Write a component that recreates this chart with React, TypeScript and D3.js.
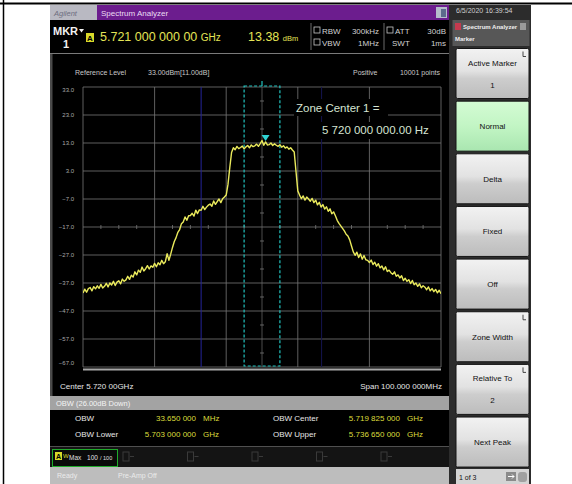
import React from "react";
import * as d3 from "d3";

const W = 572;
const H = 484;
const FONT = "'Liberation Sans', Arial, sans-serif";

// ---- data ----
const CENTER_MHZ = 5720;
const SPAN_MHZ = 100;
const TRACE_START_MHZ = 5670;
const TRACE_STEP_MHZ = 0.5;
const TRACE_LEVELS_DBM = [
  -40.6, -39.2, -40.3, -39.0, -38.6, -39.8, -38.3, -39.1, -38.0, -38.9,
  -37.5, -38.8, -38.2, -37.1, -38.4, -37.0, -37.7, -36.4, -37.9, -36.7,
  -36.2, -37.3, -35.6, -36.4, -35.9, -34.6, -35.7, -34.2, -34.9, -33.0,
  -34.1, -32.4, -33.2, -31.3, -32.7, -31.9, -30.8, -32.0, -30.9, -31.4,
  -30.0, -31.2, -29.8, -30.5, -28.9, -30.1, -29.4, -26.5, -28.9, -26.7,
  -24.3, -22.2, -20.8, -18.9, -17.9, -15.8, -15.2, -13.4, -14.6, -13.0,
  -12.9, -12.1, -13.1, -11.0, -12.2, -10.9, -11.0, -9.6, -10.8, -9.9,
  -9.2, -8.8, -9.6, -7.7, -8.9, -7.9, -7.0, -8.3, -6.9, -6.3,
  -5.6, -1.8, 4.2, 9.6,
  11.3, 10.6, 11.8, 11.0, 11.4, 11.9, 10.9, 11.6, 12.1, 11.3,
  12.3, 11.7, 12.0, 12.6, 11.8, 12.8, 13.9, 12.2, 13.4, 12.3,
  12.4, 13.0, 12.1, 12.7, 12.2, 11.8, 12.4, 11.5, 12.0, 11.2,
  11.6, 10.8, 11.3, 10.5, 9.8,
  2.8, -4.1,
  -5.6, -6.9, -5.9, -7.4, -6.3, -7.0, -7.8, -6.8, -8.3, -7.4,
  -9.1, -8.2, -9.9, -9.0, -10.6, -9.8, -11.4, -10.5, -12.3, -11.6,
  -13.0, -14.6, -15.7, -16.6, -17.5, -18.4, -19.6, -20.2, -21.6,
  -23.8, -25.9,
  -27.1, -26.0, -27.9, -26.6, -28.5, -27.2, -28.7, -28.9, -29.7, -28.8,
  -30.4, -29.6, -31.0, -30.1, -31.6, -30.9, -32.3, -31.2, -32.9, -32.4,
  -33.3, -33.9, -33.0, -34.6, -34.1, -35.2, -34.4, -36.1, -35.3, -36.4,
  -35.8, -37.2, -36.1, -37.6, -37.0, -38.2, -37.3, -38.7, -38.0, -38.5,
  -39.4, -38.4, -39.8, -39.0, -40.1, -39.3, -40.5, -39.6, -40.8,
];
const Y_TICKS_DBM = [33, 23, 13, 3, -7, -17, -27, -37, -47, -57, -67];
const X_GRID_MHZ = [5670, 5690, 5710, 5730, 5750, 5770];
const X_MINOR_MHZ = [5675, 5680, 5685, 5695, 5700, 5705, 5715, 5725, 5735, 5740, 5745, 5755, 5760, 5765];
const Y_MINOR_DBM = [28, 18, 8, -2, -12, -22, -32, -42, -52, -62];
const MARKER_MHZ = 5721;
const MARKER_DBM = 13.38;
const ZONE_LEFT_MHZ = 5715;
const ZONE_RIGHT_MHZ = 5725;
const OBW_LOWER_MHZ = 5703.0;
const OBW_UPPER_MHZ = 5736.65;

const SOFTKEY_LABELS = [
  ["Active Marker", "1"],
  ["Normal"],
  ["Delta"],
  ["Fixed"],
  ["Off"],
  ["Zone Width"],
  ["Relative To", "2"],
  ["Next Peak"],
];
const SOFTKEY_ACTIVE = 1;
const SOFTKEY_SUBMENU = [0, 5, 6];

const OBW_LABELS = ["OBW", "OBW Lower", "OBW Center", "OBW Upper"];
const OBW_VALUES = ["33.650 000", "5.703 000 000", "5.719 825 000", "5.736 650 000"];
const OBW_UNITS = ["MHz", "GHz", "GHz", "GHz"];
const TRACE_SLOTS = ["1", "2", "3", "4", "5"];

// ---- geometry ----
const PLOT_L = 83;
const PLOT_R = 441;
const PLOT_T = 87;
const PLOT_B = 367;

export default function App() {
  const x = d3
    .scaleLinear()
    .domain([CENTER_MHZ - SPAN_MHZ / 2, CENTER_MHZ + SPAN_MHZ / 2])
    .range([PLOT_L, PLOT_R]);
  const y = d3.scaleLinear().domain([-67, 33]).range([PLOT_B, PLOT_T]);
  const fmt = d3.format(".1f");

  const line = d3
    .line<number>()
    .x((_, i) => x(TRACE_START_MHZ + i * TRACE_STEP_MHZ))
    .y((d) => y(d));

  const mx = x(MARKER_MHZ);
  const my = y(MARKER_DBM);
  const zl = x(ZONE_LEFT_MHZ);
  const zr = x(ZONE_RIGHT_MHZ);
  const zc = x(CENTER_MHZ);

  const keyTop = (i: number) => 48.5 + i * 52.65;

  return (
    <div style={{ position: "fixed", left: 0, top: 0 }}>
      <svg width={W} height={H} style={{ display: "block", fontFamily: FONT }}>
        <defs>
          <linearGradient id="btn" x1="0" y1="0" x2="0" y2="1">
            <stop offset="0" stopColor="#f2f2f2" />
            <stop offset="0.45" stopColor="#e2e2e2" />
            <stop offset="0.6" stopColor="#cdcdcd" />
            <stop offset="1" stopColor="#bcbcbc" />
          </linearGradient>
          <linearGradient id="btnOn" x1="0" y1="0" x2="0" y2="1">
            <stop offset="0" stopColor="#d4fbd4" />
            <stop offset="0.5" stopColor="#c2f5c4" />
            <stop offset="1" stopColor="#a9e6b0" />
          </linearGradient>
          <clipPath id="plotClip">
            <rect x={PLOT_L} y={PLOT_T - 2} width={PLOT_R - PLOT_L} height={PLOT_B - PLOT_T + 4} />
          </clipPath>
        </defs>
        <rect width={W} height={H} fill="#ffffff" />
        {/* document frame lines */}
        <line x1={0} x2={W} y1={3.5} y2={3.5} stroke="#000" strokeWidth={2} />
        <line x1={3.5} x2={3.5} y1={0} y2={H} stroke="#000" strokeWidth={1.5} />

        {/* instrument screen */}
        <rect x={50} y={5} width={480} height={479} fill="#000" />
        {/* title bar */}
        <rect x={50} y={5} width={47} height={15} fill="#b9b9c2" />
        <text x={54} y={16} fontSize={7.5} fill="#6e6e80" fontStyle="italic">
          Agilent
        </text>
        <rect x={97} y={5} width={352} height={15} fill="#6c1d8e" />
        <text x={101} y={16} fontSize={8} fill="#eadcf2">
          Spectrum Analyzer
        </text>
        <rect x={436} y={7} width={11} height={11} fill="#b6bccc" />
        <rect x={441} y={9} width={5} height={8} fill="#5c6a8c" />

        {/* MKR row */}
        <text x={53} y={35} fontSize={11} fontWeight="bold" fill="#f2f2f2">
          MKR
        </text>
        <path d="M79,29 L84,29 L81.5,32.5 Z" fill="#f2f2f2" />
        <text x={63} y={48} fontSize={11} fontWeight="bold" fill="#f2f2f2">
          1
        </text>
        <rect x={86} y={33} width={8} height={9} fill="#d9d92a" />
        <text x={90} y={41} fontSize={8} fontWeight="bold" fill="#000" textAnchor="middle">
          A
        </text>
        <text x={100} y={41} fontSize={12.5} fill="#e4e456">
          5.721 000 000 00 <tspan fontSize={10}>GHz</tspan>
        </text>
        <text x={248} y={41} fontSize={12.5} fill="#e4e456">
          13.38 <tspan fontSize={7.5}>dBm</tspan>
        </text>
        <line x1={311} x2={311} y1={23} y2={50} stroke="#6a6a6a" />
        <line x1={384} x2={384} y1={23} y2={50} stroke="#6a6a6a" />
        <rect x={314} y={27} width={6} height={6} fill="none" stroke="#c8c8c8" strokeWidth={0.8} />
        <rect x={314} y={39} width={6} height={6} fill="none" stroke="#c8c8c8" strokeWidth={0.8} />
        <rect x={387} y={27} width={6} height={6} fill="none" stroke="#c8c8c8" strokeWidth={0.8} />
        <g fontSize={8} fill="#d2d2d2">
          <text x={322} y={34}>RBW</text>
          <text x={379} y={34} textAnchor="end">300kHz</text>
          <text x={322} y={46}>VBW</text>
          <text x={379} y={46} textAnchor="end">1MHz</text>
          <text x={395} y={34}>ATT</text>
          <text x={446} y={34} textAnchor="end">30dB</text>
          <text x={392} y={46}>SWT</text>
          <text x={446} y={46} textAnchor="end">1ms</text>
        </g>
        <line x1={50} x2={449} y1={53.5} y2={53.5} stroke="#7a7a7a" />

        {/* graph panel */}
        <rect x={50} y={54} width={2.5} height={342} fill="#4a4a4a" />
        <g fontSize={7} fill="#c8c8c8">
          <text x={75} y={75}>Reference Level</text>
          <text x={148} y={75}>33.00dBm[11.00dB]</text>
          <text x={353} y={75}>Positive</text>
          <text x={440} y={75} textAnchor="end">10001 points</text>
        </g>

        {/* grid */}
        <g stroke="#767676" strokeWidth={0.8}>
          {Y_TICKS_DBM.map((v) => (
            <line key={"h" + v} x1={PLOT_L} x2={PLOT_R} y1={y(v)} y2={y(v)} />
          ))}
          {X_GRID_MHZ.map((f) => (
            <line key={"v" + f} x1={x(f)} x2={x(f)} y1={PLOT_T} y2={PLOT_B} />
          ))}
          <line x1={zc} x2={zc} y1={PLOT_T} y2={PLOT_B} stroke="#6e6e6e" strokeWidth={0.7} />
          {X_MINOR_MHZ.map((f) => (
            <line key={"mx" + f} x1={x(f)} x2={x(f)} y1={y(-17) - 2} y2={y(-17) + 2} />
          ))}
          {Y_MINOR_DBM.map((v) => (
            <line key={"my" + v} x1={zc - 2} x2={zc + 2} y1={y(v)} y2={y(v)} />
          ))}
        </g>
        <line x1={PLOT_L} x2={PLOT_R} y1={PLOT_B + 2.5} y2={PLOT_B + 2.5} stroke="#a8a8a8" strokeWidth={2} />
        <g fontSize={6} fill="#a8a8a8" textAnchor="end">
          {Y_TICKS_DBM.map((v, i) => (
            <text
              key={"yl" + v}
              x={74}
              y={y(v) + (i === 0 ? 5 : i === Y_TICKS_DBM.length - 1 ? -2 : 2)}
            >
              {fmt(v)}
            </text>
          ))}
        </g>

        {/* OBW limit lines */}
        <line x1={x(OBW_LOWER_MHZ)} x2={x(OBW_LOWER_MHZ)} y1={PLOT_T} y2={PLOT_B} stroke="#23239a" strokeWidth={1} />
        <line x1={x(OBW_UPPER_MHZ)} x2={x(OBW_UPPER_MHZ)} y1={PLOT_T} y2={PLOT_B} stroke="#141450" strokeWidth={1} />

        {/* zone text */}
        <rect x={294} y={99} width={94} height={17} fill="#000" />
        <rect x={319} y={122} width={108} height={17} fill="#000" />
        <text x={296} y={112} fontSize={11.5} fill="#d6e4d2">
          Zone Center 1 =
        </text>
        <text x={322} y={134} fontSize={11.5} fill="#d6e4d2">
          5 720 000 000.00 Hz
        </text>

        {/* zone box */}
        <rect
          x={zl}
          y={PLOT_T - 1}
          width={zr - zl}
          height={PLOT_B - PLOT_T}
          fill="none"
          stroke="#22c4c0"
          strokeWidth={1.2}
          strokeDasharray="3,2"
        />
        <line x1={zc} x2={zc} y1={81} y2={PLOT_T - 1} stroke="#22c4c0" strokeWidth={1.2} />

        {/* trace */}
        <path
          d={line(TRACE_LEVELS_DBM) || ""}
          fill="none"
          stroke="#eaea5c"
          strokeWidth={1.4}
          strokeLinejoin="round"
          clipPath="url(#plotClip)"
        />

        {/* marker */}
        <path d={`M${mx - 4},${my - 7} L${mx + 4},${my - 7} L${mx},${my - 1} Z`} fill="#2fd3d3" />

        {/* bottom annotations */}
        <g fontSize={8} fill="#e6e6e6">
          <text x={60} y={389}>Center 5.720 00GHz</text>
          <text x={442} y={389} textAnchor="end">Span 100.000 000MHz</text>
        </g>
        <rect x={50} y={396} width={399} height={14} fill="#a3a3a3" />
        <text x={56} y={406} fontSize={7.5} fill="#f4f4f4">
          OBW (26.00dB Down)
        </text>
        <g fontSize={8}>
          {OBW_LABELS.map((lab, i) => {
            const col = Math.floor(i / 2);
            const row = i % 2;
            const lx = col === 0 ? 75 : 273;
            const vx = col === 0 ? 196 : 400;
            const ty = row === 0 ? 421 : 437;
            return (
              <g key={lab}>
                <text x={lx} y={ty} fill="#e8e8e8">{lab}</text>
                <text x={vx} y={ty} fill="#dcdc3c" textAnchor="end">{OBW_VALUES[i]}</text>
                <text x={vx + 7} y={ty} fill="#dcdc3c">{OBW_UNITS[i]}</text>
              </g>
            );
          })}
        </g>
        <line x1={50} x2={449} y1={446.5} y2={446.5} stroke="#505050" />

        {/* trace status bar */}
        <rect x={50} y={447} width={399} height={20} fill="#141414" />
        <rect x={52.5} y={449.5} width={65} height={17} fill="#0a0a0a" stroke="#1faa2a" strokeWidth={1} />
        <rect x={55} y={452} width={7} height={8} fill="#d9d92a" />
        <text x={58.5} y={459} fontSize={7} fontWeight="bold" fill="#000" textAnchor="middle">
          A
        </text>
        <text x={63} y={458} fontSize={6} fill="#d9d92a">
          W
        </text>
        <text x={69} y={460} fontSize={6.5} fill="#e0e0e0">
          Max <tspan dx={4}>100</tspan>
          <tspan dx={2} fontSize={5.5}>/ 100</tspan>
        </text>
        {TRACE_SLOTS.map((s, i) => (
          <g key={s} opacity={0.55}>
            <rect x={123 + i * 64.5} y={452} width={6} height={9} fill="none" stroke="#5a5a5a" strokeWidth={1} />
            <line x1={130 + i * 64.5} x2={134 + i * 64.5} y1={456.5} y2={456.5} stroke="#5a5a5a" />
          </g>
        ))}
        <rect x={50} y={467} width={399} height={17} fill="#bdbdbd" />
        <text x={57} y={478} fontSize={7} fill="#ebebeb">
          Ready
        </text>
        <text x={118} y={478} fontSize={7} fill="#ebebeb">
          Pre-Amp Off
        </text>

        {/* right softkey panel */}
        <rect x={449} y={5} width={82} height={479} fill="#2c2c2c" />
        <text x={456} y={13} fontSize={7} fill="#d0d0d0">
          6/5/2020 16:39:54
        </text>
        <rect x={452.5} y={20} width={77} height={26} fill="#575757" />
        <rect x={455} y={23} width={6} height={7} fill="#c43a4e" />
        <text x={463} y={29} fontSize={6} fontWeight="bold" fill="#f0f0f0">
          Spectrum Analyzer
        </text>
        <rect x={520} y={23} width={6} height={7} fill="#9a9a9a" />
        <text x={455} y={41} fontSize={6} fontWeight="bold" fill="#f0f0f0">
          Marker
        </text>
        {SOFTKEY_LABELS.map((labels, i) => {
          const top = keyTop(i);
          const h = 50;
          return (
            <g key={i}>
              <rect
                x={456}
                y={top}
                width={73}
                height={h}
                rx={1.5}
                fill={i === SOFTKEY_ACTIVE ? "url(#btnOn)" : "url(#btn)"}
                stroke="#151515"
                strokeWidth={1}
              />
              {labels.length === 1 ? (
                <text x={492.5} y={top + 28} fontSize={8} fill="#111" textAnchor="middle">
                  {labels[0]}
                </text>
              ) : (
                <>
                  <text x={492.5} y={top + 17} fontSize={8} fill="#111" textAnchor="middle">
                    {labels[0]}
                  </text>
                  <text x={492.5} y={top + 39} fontSize={8} fill="#111" textAnchor="middle">
                    {labels[1]}
                  </text>
                </>
              )}
              {SOFTKEY_SUBMENU.includes(i) && (
                <path
                  d={`M${523},${top + 3} L${523},${top + 8} L${526},${top + 8}`}
                  fill="none"
                  stroke="#333"
                  strokeWidth={0.9}
                />
              )}
            </g>
          );
        })}
        <rect x={456} y={469} width={73} height={15} fill="#d4d4d4" />
        <text x={459} y={480} fontSize={7} fill="#111">
          1 of 3
        </text>
        <rect x={506} y={472} width={10} height={9} fill="#8a8a8a" />
        <path d="M508,476.5 L514,476.5 M512,474.5 L514,476.5 L512,478.5" stroke="#fff" strokeWidth={1} fill="none" />
        <rect x={518} y={472} width={9} height={10} rx={3} fill="#a0a0a0" />
      </svg>
    </div>
  );
}
